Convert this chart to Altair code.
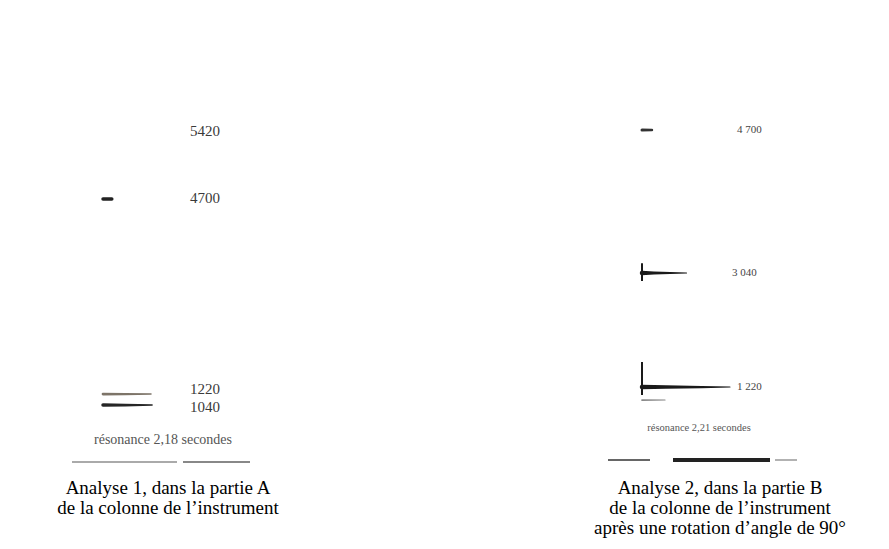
import altair as alt
import pandas as pd

# ---------------- Analyse 1 (partie A) ----------------
A1_LABEL_FREQ = [5420, 4700, 1220, 1040]
A1_LABEL_TEXT = ["5420", "4700", "1220", "1040"]
A1_RESONANCE = "résonance 2,18 secondes"
# streaks : time (s) and relative amplitude
A1_4700_T = [0.0, 0.40]
A1_4700_AMP = [0.7, 0.7]
A1_1220_T = [0.0, 1.0, 2.18]
A1_1220_AMP = [0.55, 0.45, 0.3]
A1_1040_T = [0.0, 1.0, 2.23]
A1_1040_AMP = [0.7, 0.55, 0.3]
A1_CAPTION = ["Analyse 1, dans la partie A", "de la colonne de l\u2019instrument"]

# ---------------- Analyse 2 (partie B) ----------------
A2_LABEL_FREQ = [4700, 3040, 1220]
A2_LABEL_TEXT = ["4 700", "3 040", "1 220"]
A2_RESONANCE = "résonance 2,21 secondes"
A2_4700_T = [0.0, 0.25]
A2_4700_AMP = [0.6, 0.5]
A2_3040_T = [0.0, 0.3, 1.12]
A2_3040_AMP = [0.9, 0.6, 0.2]
A2_1220_T = [0.0, 0.6, 1.5, 2.21]
A2_1220_AMP = [0.9, 0.7, 0.45, 0.2]
A2_LOW_FREQ = 1012
A2_LOW_T = [0.0, 0.58]
A2_LOW_AMP = [0.35, 0.2]
A2_ONSET_FREQ = [3040, 1220]
A2_ONSET_HI = [3152, 1619]
A2_ONSET_LO = [2912, 1092]
A2_CAPTION = ["Analyse 2, dans la partie B", "de la colonne de l\u2019instrument",
              "après une rotation d\u2019angle de 90°"]

SERIF = "Liberation Serif"
W, H = 320, 466


def streak_df(name, freq, times, amps):
    return pd.DataFrame({"streak": name, "freq": freq, "t": times, "amp": amps})


one = pd.DataFrame({"a": [0]})
size_scale = alt.Scale(domain=[0, 1], range=[0, 5])


def deco_rule(x1, x2, y, color, width):
    return alt.Chart(one).mark_rule(color=color, strokeWidth=width).encode(
        x=alt.value(x1), x2=alt.value(x2), y=alt.value(y))


y1 = alt.Scale(domain=[1040, 1220, 4700, 5420], range=[397, 386, 191, 124])
x1 = alt.Scale(domain=[0, 2.18], range=[95, 143])
y2 = alt.Scale(domain=[1220, 3040, 4700], range=[379, 265, 122])
x2 = alt.Scale(domain=[0, 2.21], range=[82, 170])


def lab_layer(df, yscale, freqs, dy, x, size, color):
    return alt.Chart(df).transform_filter(
        alt.FieldOneOfPredicate(field="freq", oneOf=freqs)
    ).mark_text(font=SERIF, fontSize=size, align="left", baseline="middle",
                dy=dy, color=color).encode(
        x=alt.value(x), y=alt.Y("freq:Q", scale=yscale, axis=None),
        text="label:N")


# ---------- panel 1 ----------
s1 = pd.concat([
    streak_df("4700", 4700, A1_4700_T, A1_4700_AMP),
    streak_df("1220", 1220, A1_1220_T, A1_1220_AMP),
    streak_df("1040", 1040, A1_1040_T, A1_1040_AMP),
])
trail1 = alt.Chart(s1).mark_trail().encode(
    x=alt.X("t:Q", scale=x1, axis=None),
    y=alt.Y("freq:Q", scale=y1, axis=None),
    size=alt.Size("amp:Q", scale=size_scale, legend=None),
    detail="streak:N",
    order="t:Q",
    color=alt.Color("streak:N", scale=alt.Scale(domain=["4700", "1220", "1040"],
                                                range=["#222222", "#7d7468", "#262626"]),
                    legend=None),
)

lab1 = pd.DataFrame({"freq": A1_LABEL_FREQ, "label": A1_LABEL_TEXT})
texts1 = (lab_layer(lab1, y1, [5420, 4700], -1, 182, 15, "#3a3a3a")
          + lab_layer(lab1, y1, [1220], -5, 182, 15, "#3a3a3a")
          + lab_layer(lab1, y1, [1040], 2, 182, 15, "#3a3a3a"))

res1 = alt.Chart(one).mark_text(font=SERIF, fontSize=14, color="#555555").encode(
    x=alt.value(155), y=alt.value(432), text=alt.value(A1_RESONANCE))

panel1 = alt.layer(
    trail1, texts1, res1,
    deco_rule(64, 169, 454, "#aaaaaa", 2),
    deco_rule(175, 242, 454, "#888888", 2),
).properties(
    width=W, height=H,
    title=alt.TitleParams(A1_CAPTION, orient="bottom", anchor="middle", font=SERIF,
                          fontSize=19, fontWeight="normal", color="#000000",
                          lineHeight=20, offset=5),
)

# ---------- panel 2 ----------
s2 = pd.concat([
    streak_df("4700", 4700, A2_4700_T, A2_4700_AMP),
    streak_df("3040", 3040, A2_3040_T, A2_3040_AMP),
    streak_df("1220", 1220, A2_1220_T, A2_1220_AMP),
    streak_df("low", A2_LOW_FREQ, A2_LOW_T, A2_LOW_AMP),
])
trail2 = alt.Chart(s2).mark_trail().encode(
    x=alt.X("t:Q", scale=x2, axis=None),
    y=alt.Y("freq:Q", scale=y2, axis=None),
    size=alt.Size("amp:Q", scale=size_scale, legend=None),
    detail="streak:N",
    order="t:Q",
    color=alt.Color("streak:N", scale=alt.Scale(domain=["4700", "3040", "1220", "low"],
                                                range=["#333333", "#1a1a1a", "#1a1a1a", "#888888"]),
                    legend=None),
)
onset = alt.Chart(pd.DataFrame({"freq": A2_ONSET_FREQ, "hi": A2_ONSET_HI,
                                "lo": A2_ONSET_LO, "t": [0.0, 0.0]})).mark_rule(
    color="#1a1a1a", strokeWidth=2).encode(
    x=alt.X("t:Q", scale=x2, axis=None),
    y=alt.Y("hi:Q", scale=y2, axis=None), y2="lo:Q")

lab2 = pd.DataFrame({"freq": A2_LABEL_FREQ, "label": A2_LABEL_TEXT})
texts2 = (lab_layer(lab2, y2, [4700], 0, 177, 11, "#444444")
          + lab_layer(lab2, y2, [3040], 0, 172, 11, "#444444")
          + lab_layer(lab2, y2, [1220], 0, 177, 11, "#444444"))

res2 = alt.Chart(one).mark_text(font=SERIF, fontSize=10.5, color="#555555").encode(
    x=alt.value(139), y=alt.value(420), text=alt.value(A2_RESONANCE))

panel2 = alt.layer(
    trail2, onset, texts2, res2,
    deco_rule(48, 90, 452, "#666666", 2),
    deco_rule(113, 210, 452, "#222222", 4),
    deco_rule(215, 237, 452, "#999999", 1.5),
).properties(
    width=W, height=H,
    title=alt.TitleParams(A2_CAPTION, orient="bottom", anchor="middle", font=SERIF,
                          fontSize=19, fontWeight="normal", color="#000000",
                          lineHeight=20, offset=5),
)

chart = alt.hconcat(panel1, panel2, spacing=232).resolve_scale(
    x="independent", y="independent", size="independent", color="independent"
).properties(
    padding={"left": 0, "top": 0, "right": 0, "bottom": 0},
    background="#ffffff",
).configure_view(stroke=None, strokeWidth=0)

chart.save("out.html", embed_options={"renderer": "svg", "actions": False})
